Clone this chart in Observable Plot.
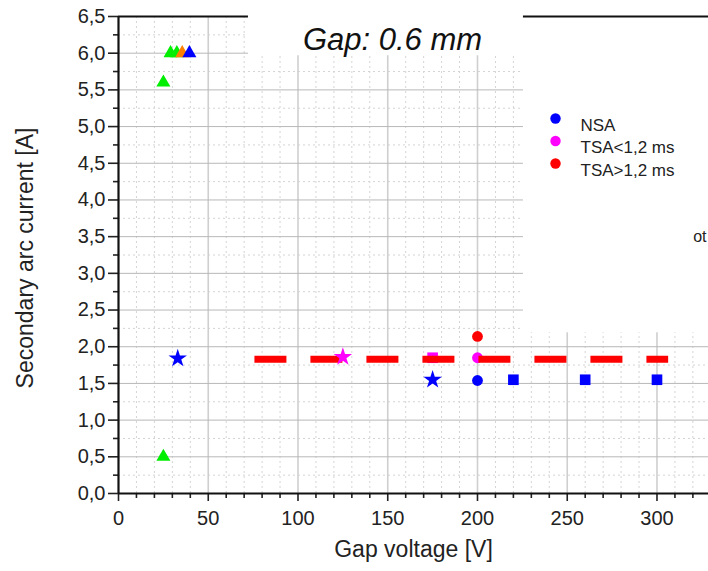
<!DOCTYPE html>
<html>
<head>
<meta charset="utf-8">
<script src="https://cdn.jsdelivr.net/npm/d3@7"></script>
<script src="https://cdn.jsdelivr.net/npm/@observablehq/plot@0.6"></script>
<style>
  html, body { margin: 0; padding: 0; background: white; }
  #chart svg { display: block; }
</style>
</head>
<body>
<div id="chart"></div>
<script>
// ---- data ----
const titleText = "Gap: 0.6 mm";
const xLabel = "Gap voltage [V]";
const yLabel = "Secondary arc current [A]";
const legendLabels = ["NSA", "TSA<1,2 ms", "TSA>1,2 ms"];
const legendColors = ["#0000ff", "#ff00ff", "#ff0000"];
const strayText = "ot";

const xTicks = [0, 50, 100, 150, 200, 250, 300];
const yTicks = [0, 0.5, 1, 1.5, 2, 2.5, 3, 3.5, 4, 4.5, 5, 5.5, 6, 6.5];

// green triangles
const greenTriangles = [
  {v: 25, a: 5.6}, {v: 29, a: 6.0}, {v: 32.5, a: 6.0}, {v: 25, a: 0.5}
];
// orange triangle
const orangeTriangles = [{v: 35.5, a: 6.0}];
// NSA (blue)
const nsaTriangles = [{v: 39.5, a: 6.0}];
const nsaStars = [{v: 33, a: 1.84}, {v: 175, a: 1.55}];
const nsaCircles = [{v: 200, a: 1.54}];
const nsaSquares = [{v: 220, a: 1.55}, {v: 260, a: 1.55}, {v: 300, a: 1.55}];
// TSA < 1,2 ms (magenta)
const tsaShortSquares = [{v: 175, a: 1.85}];
const tsaShortCircles = [{v: 200, a: 1.85}];
const tsaShortStars = [{v: 125, a: 1.86}];
// TSA > 1,2 ms (red)
const tsaLongCircles = [{v: 200, a: 2.14}];
// red dashed threshold line
const thresholdLine = [{v1: 76, v2: 306.5, a: 1.83}];

// ---- layout helpers ----
const minorV = d3.range(10, 330, 10).filter(d => d % 50 !== 0);
const minorA = d3.range(0.25, 6.5, 0.5);
const fmt = d => d.toFixed(1).replace(".", ",");
const font = "'Liberation Sans', Arial, sans-serif";

const plot = Plot.plot({
  width: 708,
  height: 571,
  marginLeft: 118,
  marginRight: 0,
  marginTop: 16,
  marginBottom: 78,
  x: {domain: [0, 328.7], label: null},
  y: {domain: [0, 6.5], label: null},
  style: {fontFamily: font, background: "white", color: "#222"},
  marks: [
    // grid
    Plot.ruleX(minorV, {stroke: "#d4d4d4", strokeDasharray: "2,3"}),
    Plot.ruleY(minorA, {stroke: "#d4d4d4", strokeDasharray: "2,3"}),
    Plot.ruleX(xTicks.filter(d => d > 0), {stroke: "#cfcfcf", strokeWidth: 1.6}),
    Plot.ruleY(yTicks.filter(d => d > 0 && d < 6.5), {stroke: "#b8b8b8", strokeWidth: 1}),
    // white patches of the collage (title box and legend box)
    Plot.rect([0], {x1: 72.4, x2: 225.6, y1: 5.965, y2: 6.73, fill: "white"}),
    Plot.rect([0], {x1: 225.6, x2: 330, y1: 2.19, y2: 6.5, fill: "white"}),
    // top frame line segments
    Plot.ruleY([6.5], {x1: 0, x2: 72.4, stroke: "#111", strokeWidth: 2}),
    Plot.ruleY([6.5], {x1: 225.6, x2: 330, stroke: "#111", strokeWidth: 2}),
    // axes
    Plot.axisY(yTicks, {tickSize: 10, tickPadding: 3, tickFormat: fmt, fontSize: 20, stroke: "#222", strokeWidth: 1.6, label: null}),
    Plot.axisY(minorA, {tickSize: 5, tickFormat: () => "", stroke: "#222", strokeWidth: 1.6, label: null}),
    Plot.axisX(xTicks, {tickSize: 8, tickPadding: 9, fontSize: 20, stroke: "#222", strokeWidth: 1.6, label: null}),
    Plot.axisX(minorV, {tickSize: 5, tickFormat: () => "", stroke: "#222", strokeWidth: 1.6, label: null}),
    Plot.ruleX([0], {stroke: "#111", strokeWidth: 2.2}),
    Plot.ruleY([0], {stroke: "#111", strokeWidth: 2.2}),
    // markers
    Plot.dot(greenTriangles, {x: "v", y: "a", symbol: "triangle", r: 5.2, fill: "#00ee00"}),
    Plot.dot(orangeTriangles, {x: "v", y: "a", symbol: "triangle", r: 5.2, fill: "#ff8000"}),
    Plot.dot(nsaTriangles, {x: "v", y: "a", symbol: "triangle", r: 5.2, fill: "#0000ff"}),
    Plot.dot(nsaStars, {x: "v", y: "a", symbol: "star", r: 5.8, fill: "#0000ff"}),
    Plot.dot(nsaCircles, {x: "v", y: "a", symbol: "circle", r: 5.4, fill: "#0000ff"}),
    Plot.dot(nsaSquares, {x: "v", y: "a", symbol: "square", r: 6, fill: "#0000ff"}),
    Plot.dot(tsaShortSquares, {x: "v", y: "a", symbol: "square", r: 6, fill: "#ff00ff"}),
    Plot.dot(tsaShortCircles, {x: "v", y: "a", symbol: "circle", r: 5.4, fill: "#ff00ff"}),
    Plot.dot(tsaLongCircles, {x: "v", y: "a", symbol: "circle", r: 5.4, fill: "#ff0000"}),
    Plot.ruleY(thresholdLine, {x1: "v1", x2: "v2", y: "a", stroke: "#ff0000", strokeWidth: 7, strokeDasharray: "32,24"}),
    Plot.dot(tsaShortStars, {x: "v", y: "a", symbol: "star", r: 5.8, fill: "#ff00ff"}),
    // legend
    ...legendLabels.flatMap((lab, i) => [
      Plot.dot([lab], {frameAnchor: "top-left", dx: 437, dy: 102 + i * 22.5, r: 5.2, fill: legendColors[i]}),
      Plot.text([lab], {frameAnchor: "top-left", dx: 462, dy: 102 + i * 22.5, text: d => d, textAnchor: "start", fontSize: 17, fill: "#222"})
    ]),
    // title and labels
    Plot.text([titleText], {frameAnchor: "top-left", dx: 274, dy: 11, text: d => d, textAnchor: "middle", fontSize: 31, fontStyle: "italic", fill: "#111"}),
    Plot.text([xLabel], {frameAnchor: "bottom", dy: 63, text: d => d, textAnchor: "middle", fontSize: 23, fill: "#222"}),
    Plot.text([yLabel], {frameAnchor: "left", dx: -93, dy: 3, rotate: -90, text: d => d, textAnchor: "middle", fontSize: 23, fill: "#222"}),
    Plot.text([strayText], {frameAnchor: "top-right", dx: -2, dy: 214, text: d => d, textAnchor: "end", fontSize: 16, fill: "#222"})
  ]
});
document.getElementById("chart").appendChild(plot);
</script>
</body>
</html>
